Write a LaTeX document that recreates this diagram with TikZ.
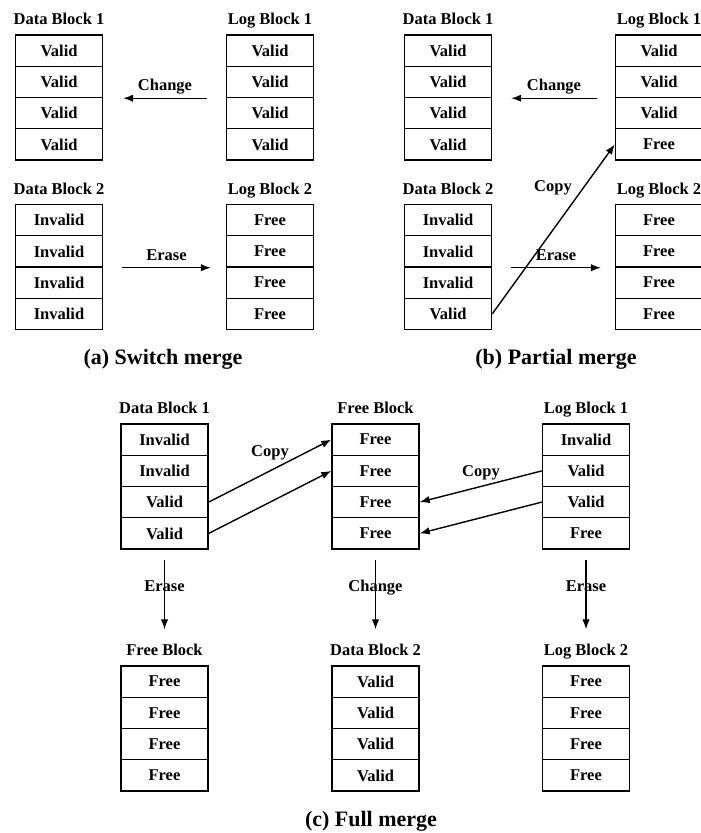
\documentclass[tikz,border=0pt]{standalone}
\usepackage{fontspec}
\setmainfont{Liberation Serif}
\usetikzlibrary{arrows.meta}
% one block: name, centre x, top y, title, four pages
\newcommand{\blk}[8]{%
  \node[blktitle] (#1t) at (#2,#3-14) {#4};
  \node[cell] (#1-1) at (#2,#3+15.6) {#5};
  \node[cell] (#1-2) at (#2,#3+46.9) {#6};
  \node[cell] (#1-3) at (#2,#3+78.1) {#7};
  \node[cell] (#1-4) at (#2,#3+109.4) {#8};
}

\begin{document}
\begin{tikzpicture}[x=1pt,y=-1pt,
    font=\bfseries\fontsize{16.5}{18}\selectfont,
    cell/.style={draw,line width=1.4pt,minimum width=87pt,minimum height=31.25pt,inner sep=0pt},
    blktitle/.style={inner sep=1pt,text height=11pt,text depth=3.5pt},
    lbl/.style={text height=11pt,text depth=3.5pt},
    arr/.style={-{Latex[length=10pt,width=7.5pt]},line width=1.4pt},
    caption/.style={font=\bfseries\fontsize{22}{24}\selectfont}]
    \useasboundingbox (0,0) rectangle (701,833);

    % (a) switch merge
    \blk{aD1}{59}{35}{Data Block 1}{Valid}{Valid}{Valid}{Valid}
    \blk{aL1}{270}{35}{Log Block 1}{Valid}{Valid}{Valid}{Valid}
    \blk{aD2}{59}{204.5}{Data Block 2}{Invalid}{Invalid}{Invalid}{Invalid}
    \blk{aL2}{270}{204.5}{Log Block 2}{Free}{Free}{Free}{Free}
    \draw[arr] ([xshift=-19pt]aL1-2.south west) -- node[lbl,above]{Change} ([xshift=20pt]aD1-2.south east);
    \draw[arr] ([xshift=19pt]aD2-2.south east) -- node[lbl,above]{Erase} ([xshift=-15pt]aL2-2.south west);
    \node[caption] (capa) at (163,359) {(a) Switch merge};

    % (b) partial merge
    \blk{bD1}{448}{35}{Data Block 1}{Valid}{Valid}{Valid}{Valid}
    \blk{bL1}{659}{35}{Log Block 1}{Valid}{Valid}{Valid}{Free}
    \blk{bD2}{448}{204.5}{Data Block 2}{Invalid}{Invalid}{Invalid}{Valid}
    \blk{bL2}{659}{204.5}{Log Block 2}{Free}{Free}{Free}{Free}
    \draw[arr] ([xshift=-18pt]bL1-2.south west) -- node[lbl,above]{Change} ([xshift=19pt]bD1-2.south east);
    \draw[arr] (bD2-4.east) -- (bL1-4.west);
    \node[lbl] (bcopy) at (553,188) {Copy};
    \draw[arr] ([xshift=19pt]bD2-2.south east) -- node[lbl,above]{Erase} ([xshift=-14pt]bL2-2.south west);
    \node[caption] (capb) at (556,359) {(b) Partial merge};

    % (c) full merge
    \blk{cD1}{164.5}{424}{Data Block 1}{Invalid}{Invalid}{Valid}{Valid}
    \blk{cF}{375.5}{424}{Free Block}{Free}{Free}{Free}{Free}
    \blk{cL1}{586}{424}{Log Block 1}{Invalid}{Valid}{Valid}{Free}
    \blk{cFB}{164.5}{666}{Free Block}{Free}{Free}{Free}{Free}
    \blk{cD2}{375.5}{666}{Data Block 2}{Valid}{Valid}{Valid}{Valid}
    \blk{cL2}{586}{666}{Log Block 2}{Free}{Free}{Free}{Free}
    \draw[arr] (cD1-3.east) -- (cF-1.west);
    \draw[arr] (cD1-4.east) -- (cF-2.west);
    \node[lbl] (ccopyl) at (270,453) {Copy};
    \draw[arr] (cL1-2.west) -- (cF-3.east);
    \draw[arr] (cL1-3.west) -- (cF-4.east);
    \node[lbl] (ccopyr) at (481,473) {Copy};
    \draw[arr] ([yshift=-10pt]cD1-4.south) -- node[lbl,pos=0.4]{Erase} ([yshift=36pt]cFB-1.north);
    \draw[arr] ([yshift=-10pt]cF-4.south) -- node[lbl,pos=0.4]{Change} ([yshift=36pt]cD2-1.north);
    \draw[arr] ([yshift=-10pt]cL1-4.south) -- node[lbl,pos=0.4]{Erase} ([yshift=36pt]cL2-1.north);
    \node[caption] (capc) at (371,821) {(c) Full merge};
\end{tikzpicture}
\end{document}
